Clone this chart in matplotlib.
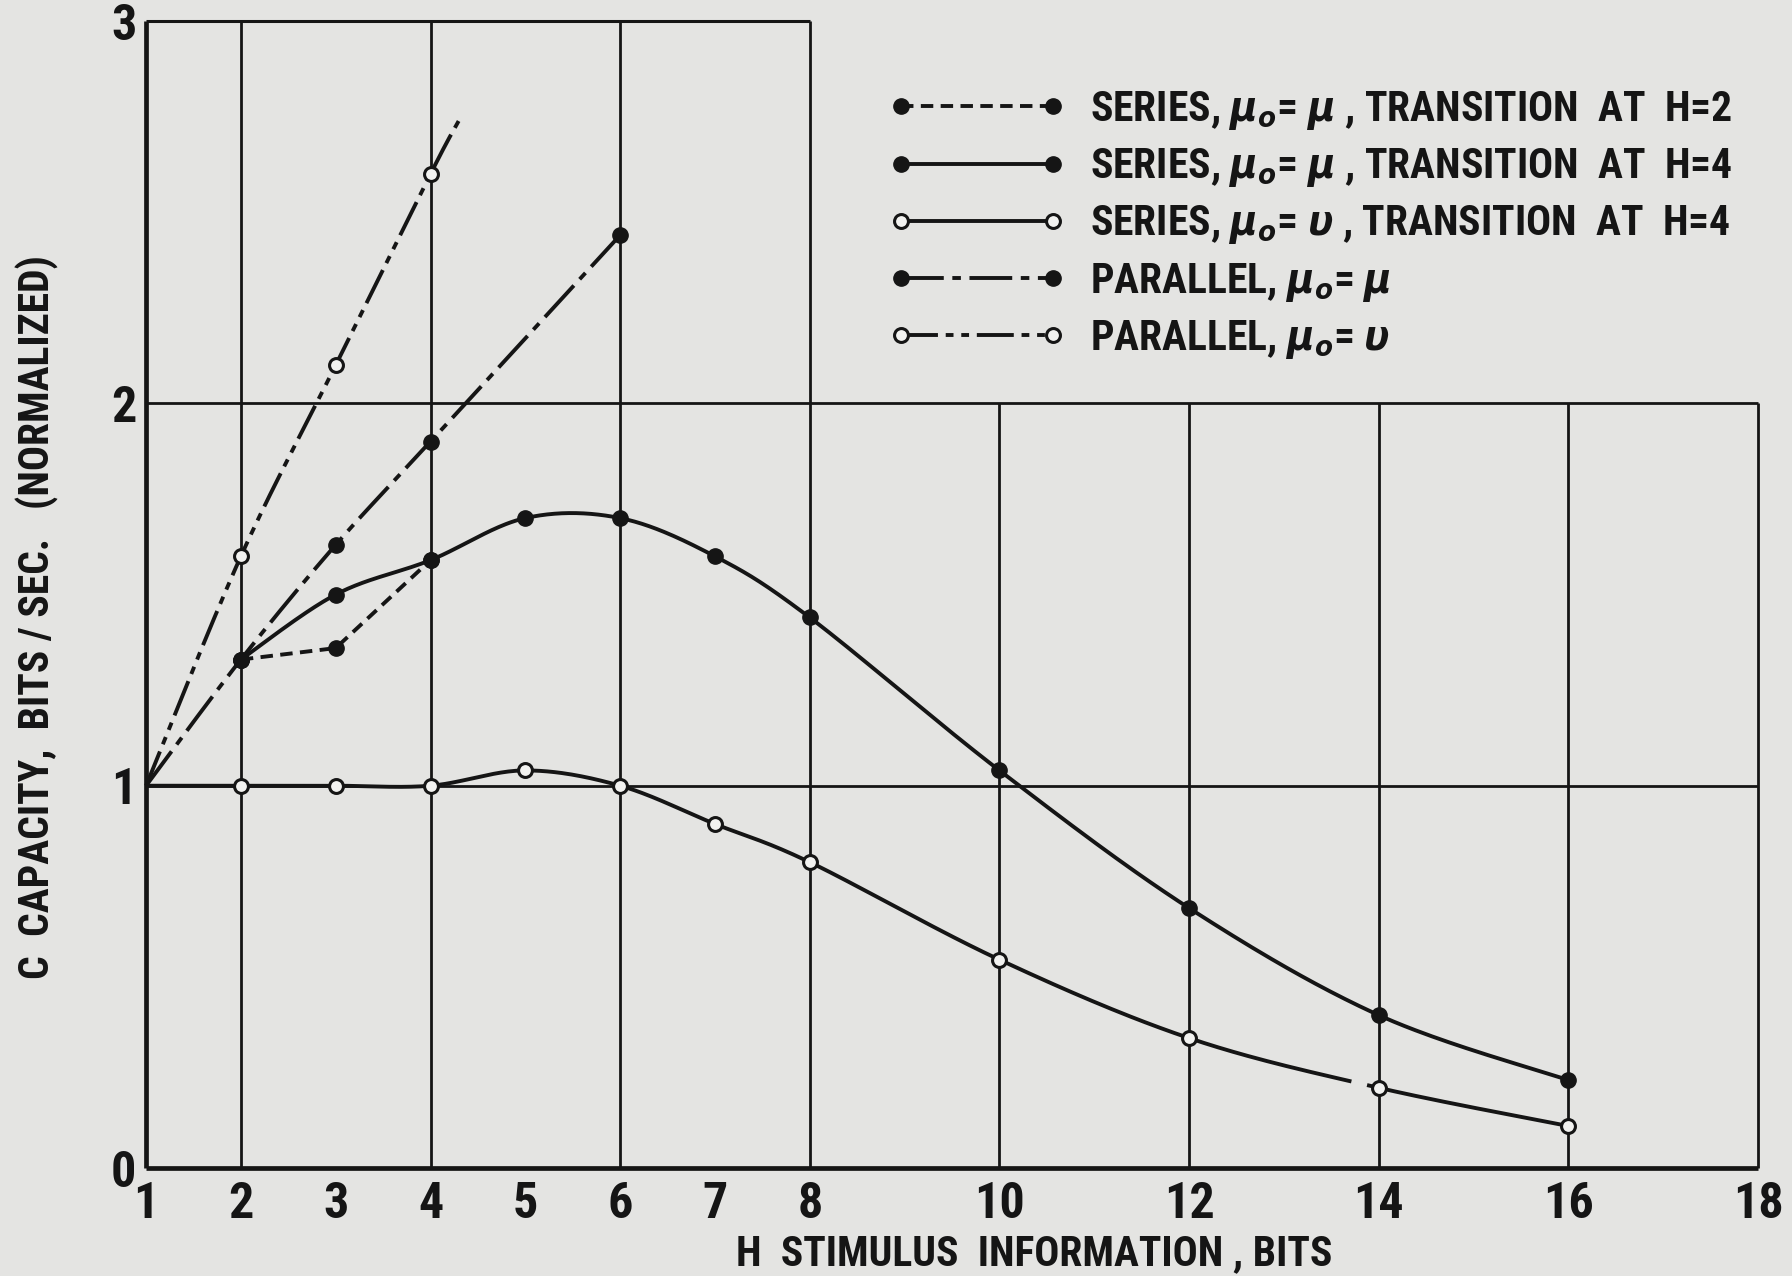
import numpy as np
import matplotlib
matplotlib.use("Agg")
import matplotlib.pyplot as plt
from matplotlib.lines import Line2D
from matplotlib import font_manager as fm

# ---------------- data ----------------
h_ticks = [1, 2, 3, 4, 5, 6, 7, 8, 10, 12, 14, 16, 18]
c_ticks = [0, 1, 2, 3]

ser_mu_h2_x = [2, 3, 4]
ser_mu_h2_y = [1.33, 1.36, 1.59]

ser_mu_h4_x = [2, 3, 4, 5, 6, 7, 8, 10, 12, 14, 16]
ser_mu_h4_y = [1.33, 1.50, 1.59, 1.70, 1.70, 1.60, 1.44, 1.04, 0.68, 0.40, 0.23]

ser_v_h4_x = [1, 2, 3, 4, 5, 6, 7, 8, 10, 12, 14, 16]
ser_v_h4_y = [1.0, 1.0, 1.0, 1.0, 1.04, 1.0, 0.90, 0.80, 0.545, 0.34, 0.21, 0.11]

par_mu_x = [1, 2, 3, 4, 6]
par_mu_y = [1.0, 1.33, 1.63, 1.90, 2.44]

par_v_x = [1, 2, 3, 4]
par_v_y = [1.0, 1.60, 2.10, 2.60]
par_v_end_x = [4.3]
par_v_end_y = [2.74]

labels = [
    "SERIES, $\\mu_o$= $\\mu$ , TRANSITION  AT  H=2",
    "SERIES, $\\mu_o$= $\\mu$ , TRANSITION  AT  H=4",
    "SERIES, $\\mu_o$= $\\upsilon$ , TRANSITION  AT  H=4",
    "PARALLEL, $\\mu_o$= $\\mu$",
    "PARALLEL, $\\mu_o$= $\\upsilon$",
]

# ---------------- style ----------------
names = {f.name for f in fm.fontManager.ttflist}
cands = ["Liberation Sans Narrow", "DejaVu Sans Condensed", "Roboto Condensed",
         "Open Sans Condensed", "Noto Sans Display", "Roboto", "DejaVu Sans"]
FONT = [c for c in cands if c in names] or ["DejaVu Sans"]
plt.rcParams["font.family"] = FONT
plt.rcParams["font.stretch"] = "condensed"
plt.rcParams["font.weight"] = "bold"
plt.rcParams["mathtext.fontset"] = "dejavusans"
BG = "#e4e4e2"
INK = "#151515"
OPEN_FC = "#f2f2f0"
LW = 2.8
GLW = 2.0
MS_F = 11
MS_O = 10


def smooth(xs, ys, n=40):
    """Catmull-Rom curve through the points (drawing only)."""
    P = np.column_stack([np.asarray(xs, float), np.asarray(ys, float)])
    P = np.vstack([P[0], P, P[-1]])
    out = []
    t = np.linspace(0, 1, n)[:, None]
    for i in range(1, len(P) - 2):
        p0, p1, p2, p3 = P[i - 1], P[i], P[i + 1], P[i + 2]
        seg = 0.5 * ((2 * p1) + (-p0 + p2) * t + (2 * p0 - 5 * p1 + 4 * p2 - p3) * t ** 2
                     + (-p0 + 3 * p1 - 3 * p2 + p3) * t ** 3)
        out.append(seg if i == 1 else seg[1:])
    S = np.vstack(out)
    return S[:, 0], S[:, 1]


DASH_SER2 = (0, (3.2, 1.9))
DASH_PMU = (0, (11, 2.2, 2.2, 2.2))
DASH_PV = (0, (9.5, 2.0, 2.0, 2.0, 2.0, 2.0))

fig = plt.figure(figsize=(17.92, 12.76), dpi=100, facecolor=BG)
ax = fig.add_axes([0.0815, 0.0846, 0.981 - 0.0815, 0.9835 - 0.0846], facecolor=BG)
ax.set_xlim(1, 18)
ax.set_ylim(0, 3)
for s in ax.spines.values():
    s.set_visible(False)

# frame and grid
ax.vlines([2, 4, 6, 8], 0, 3, color=INK, lw=GLW, zorder=1, clip_on=False)
ax.vlines([10, 12, 14, 16, 18], 0, 2, color=INK, lw=GLW, zorder=1, clip_on=False)
ax.hlines([1, 2], 1, 18, color=INK, lw=GLW, zorder=1, clip_on=False)
ax.hlines(3, 1, 8, color=INK, lw=2.2, zorder=1, clip_on=False)
ax.vlines(1, 0, 3, color=INK, lw=3.4, zorder=2, clip_on=False)
ax.hlines(0, 1, 18, color=INK, lw=3.4, zorder=2, clip_on=False)

# parallel, mu0 = upsilon
x, y = smooth(par_v_x + par_v_end_x, par_v_y + par_v_end_y)
ax.plot(x, y, color=INK, lw=LW, ls=DASH_PV, zorder=3, clip_on=False)
ax.plot(par_v_x[1:], par_v_y[1:], ls="none", marker="o", ms=MS_O, mfc=OPEN_FC, mec=INK, mew=2.2, zorder=5)

# parallel, mu0 = mu
x, y = smooth(par_mu_x, par_mu_y)
ax.plot(x, y, color=INK, lw=LW, ls=DASH_PMU, zorder=3)
ax.plot(par_mu_x[1:], par_mu_y[1:], ls="none", marker="o", ms=MS_F, color=INK, zorder=5)

# series, mu0 = mu, transition at H=2
ax.plot(ser_mu_h2_x, ser_mu_h2_y, color=INK, lw=LW, ls=DASH_SER2, zorder=3,
        marker="o", ms=MS_F, mfc=INK, mec=INK)

# series, mu0 = mu, transition at H=4
x, y = smooth(ser_mu_h4_x, ser_mu_h4_y)
ax.plot(x, y, color=INK, lw=LW, ls="-", zorder=3)
ax.plot(ser_mu_h4_x, ser_mu_h4_y, ls="none", marker="o", ms=MS_F, color=INK, zorder=5)

# series, mu0 = upsilon, transition at H=4 (with the small break near H=14)
x, y = smooth(ser_v_h4_x, ser_v_h4_y)
y = np.where((x > 13.74) & (x < 13.86), np.nan, y)
ax.plot(x, y, color=INK, lw=LW, ls="-", zorder=3)
ax.plot(ser_v_h4_x[1:], ser_v_h4_y[1:], ls="none", marker="o", ms=MS_O, mfc=OPEN_FC, mec=INK, mew=2.2, zorder=5)

# ticks
ax.set_xticks(h_ticks)
ax.set_xticklabels([str(v) for v in h_ticks])
ax.set_yticks(c_ticks)
ax.set_yticklabels([str(v) for v in c_ticks])
ax.tick_params(axis="both", length=0, labelsize=36, colors=INK)
ax.tick_params(axis="x", pad=9)
ax.tick_params(axis="y", pad=7)

# axis titles
fig.text(1034 / 1792, 1 - 1254 / 1276, "H  STIMULUS  INFORMATION , BITS", ha="center", va="center",
         fontsize=30, color=INK)
fig.text(37 / 1792, 1 - 617 / 1276, "C  CAPACITY,  BITS / SEC.   (NORMALIZED)", ha="center", va="center",
         rotation=90, fontsize=30, color=INK)

# legend
handles = [
    Line2D([], [], color=INK, lw=LW, ls=DASH_SER2, marker="o", ms=MS_F, mfc=INK, mec=INK),
    Line2D([], [], color=INK, lw=LW, ls="-", marker="o", ms=MS_F, mfc=INK, mec=INK),
    Line2D([], [], color=INK, lw=LW, ls="-", marker="o", ms=MS_O, mfc=OPEN_FC, mec=INK, mew=2.2),
    Line2D([], [], color=INK, lw=LW, ls=DASH_PMU, marker="o", ms=MS_F, mfc=INK, mec=INK),
    Line2D([], [], color=INK, lw=LW, ls=DASH_PV, marker="o", ms=MS_O, mfc=OPEN_FC, mec=INK, mew=2.2),
]
leg = fig.legend(handles, labels, loc="upper left", bbox_to_anchor=(888 / 1792, 1 - 89 / 1276),
                 numpoints=2, frameon=False, fontsize=30, handlelength=4.25, handletextpad=0.6,
                 labelspacing=0.34, borderpad=0, borderaxespad=0)
for t in leg.get_texts():
    t.set_color(INK)

fig.savefig("out.png", dpi=100, facecolor=BG)
